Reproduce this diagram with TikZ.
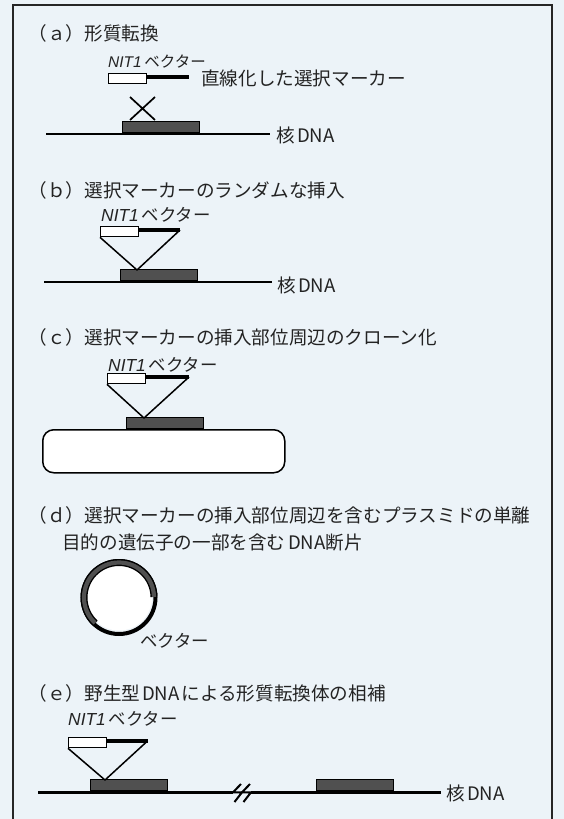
\documentclass[tikz,border=0pt]{standalone}
\usepackage{fontspec}
\setmainfont{Noto Sans CJK JP}
\newfontfamily\nitfont{Liberation Sans}
\definecolor{bgblue}{RGB}{236,243,248}
\definecolor{txt}{RGB}{35,35,35}
\definecolor{genegray}{RGB}{80,80,80}
\tikzset{
  lbl/.style={anchor=west,inner sep=0pt,text=txt,font=\fontsize{18.6}{22}\selectfont},
  veclbl/.style={anchor=west,inner sep=0pt,text=txt,font=\fontsize{17.4}{21}\selectfont},
  vecbox/.style={draw=black,line width=1.3pt,fill=white,minimum width=38pt,minimum height=10pt,inner sep=0pt,anchor=north west},
  gene/.style={draw=black,line width=1pt,fill=genegray,minimum width=77pt,minimum height=11.5pt,inner sep=0pt,anchor=south west},
  dna/.style={line width=2.8pt},
  marker/.style={line width=4.3pt},
  tri/.style={line width=1.5pt,line join=round},
  brk/.style={line width=2pt,line join=miter},
}
\newcommand{\nit}{{\nitfont\itshape NIT1}}
\begin{document}
\begin{tikzpicture}[x=1pt,y=-1pt]
\useasboundingbox (0,0) rectangle (564,819);
\fill[bgblue] (0,0) rectangle (564,819);
\draw[line width=1.2pt,black!85] (13,825) -- (13,5) -- (552,5) -- (552,825);

% ---------- (a)
\node[lbl] (ta) at (28.5,33) {（ａ）形質転換};
\node[veclbl,font=\fontsize{15.5}{18}\selectfont] (na) at (108,62) {\nit\,ベクター};
\node[vecbox] (va) at (108,73) {};
\coordinate (vae) at (189,77);
\draw[marker] ([yshift=-4pt]va.north east) -- (vae);
\node[lbl] (sa) at (201,78) {直線化した選択マーカー};
\coordinate (xa1) at (130,97);
\coordinate (xa2) at (155,120);
\coordinate (xa3) at (155,97);
\coordinate (xa4) at (130,120);
\draw[line width=1.7pt] (xa1) -- (xa2) (xa3) -- (xa4);
\coordinate (da1) at (46,134);
\coordinate (da2) at (270,134);
\draw[dna] (da1) -- (da2);
\node[gene] (ga) at (122,133) {};
\node[lbl] (ka) at (276,135) {核\hspace{0.12em}DNA};

% ---------- (b)
\node[lbl] (tb) at (28.5,190) {（ｂ）選択マーカーのランダムな挿入};
\node[veclbl] (nb) at (101,215) {\nit\,ベクター};
\coordinate (db1) at (44,282);
\coordinate (db2) at (272,282);
\draw[dna] (db1) -- (db2);
\node[gene] (gb) at (120,281) {};
\node[vecbox] (vb) at (100,226) {};
\coordinate (vbe) at (180,230);
\draw[marker] ([yshift=-4pt]vb.north east) -- (vbe);
\coordinate (apb) at (137,270);
\draw[tri] (vb.south west) -- (apb) -- (vbe);
\node[lbl] (kb) at (277,285) {核\hspace{0.12em}DNA};

% ---------- (c)
\node[lbl] (tc) at (28.5,337) {（ｃ）選択マーカーの挿入部位周辺のクローン化};
\node[veclbl] (nc) at (108,365) {\nit\,ベクター};
\node[draw=black,line width=1.5pt,fill=white,rounded corners=11pt,minimum width=242pt,minimum height=43pt,inner sep=0pt,anchor=north west] (rc) at (42,429) {};
\node[gene] (gc) at (126,429) {};
\node[vecbox] (vc) at (107,373) {};
\coordinate (vce) at (189,377);
\draw[marker] ([yshift=-4pt]vc.north east) -- (vce);
\coordinate (apc) at (144,418);
\draw[tri] (vc.south west) -- (apc) -- (vce);

% ---------- (d)
\node[lbl] (td) at (28.5,515) {（ｄ）選択マーカーの挿入部位周辺を含むプラスミドの単離};
\node[lbl] (td2) at (62,542) {目的の遺伝子の一部を含む\hspace{0.15em}DNA断片};
\coordinate (cc) at (119,597.5);
\fill[white] (cc) circle[radius=33];
\draw[line width=4pt] (cc) circle[radius=36.5];
\draw[line width=7pt] ([shift={(-1:35)}]cc) arc[start angle=-1,end angle=-227,radius=35];
\draw[line width=4.2pt,genegray] ([shift={(-1:35)}]cc) arc[start angle=-1,end angle=-227,radius=35];
\node[veclbl] (vd) at (140,641) {ベクター};

% ---------- (e)
\node[lbl] (te) at (28.5,693) {（ｅ）野生型\hspace{0.1em}DNA\hspace{0.1em}による形質転換体の相補};
\node[veclbl] (ne) at (68,719) {\nit\,ベクター};
\coordinate (de1) at (38,792.3);
\coordinate (de2) at (233,792.3);
\coordinate (de3) at (251,792.3);
\coordinate (de4) at (441,792.3);
\draw[dna] (de1) -- (de2);
\draw[dna] (de3) -- (de4);
\draw[brk] (241,784) -- (233,792.3) -- (242,792.3) -- (234.5,802);
\draw[brk] (250,784) -- (242,792.3) -- (251,792.3) -- (243.5,802);
\node[gene] (ge1) at (90,791) {};
\node[gene] (ge2) at (316,791) {};
\node[vecbox] (ve) at (68,737) {};
\coordinate (vee) at (147.5,741);
\draw[marker] ([yshift=-4pt]ve.north east) -- (vee);
\coordinate (ape) at (105,780);
\draw[tri] (ve.south west) -- (ape) -- (vee);
\node[lbl] (ke) at (446,793) {核\hspace{0.12em}DNA};
\end{tikzpicture}
\end{document}
